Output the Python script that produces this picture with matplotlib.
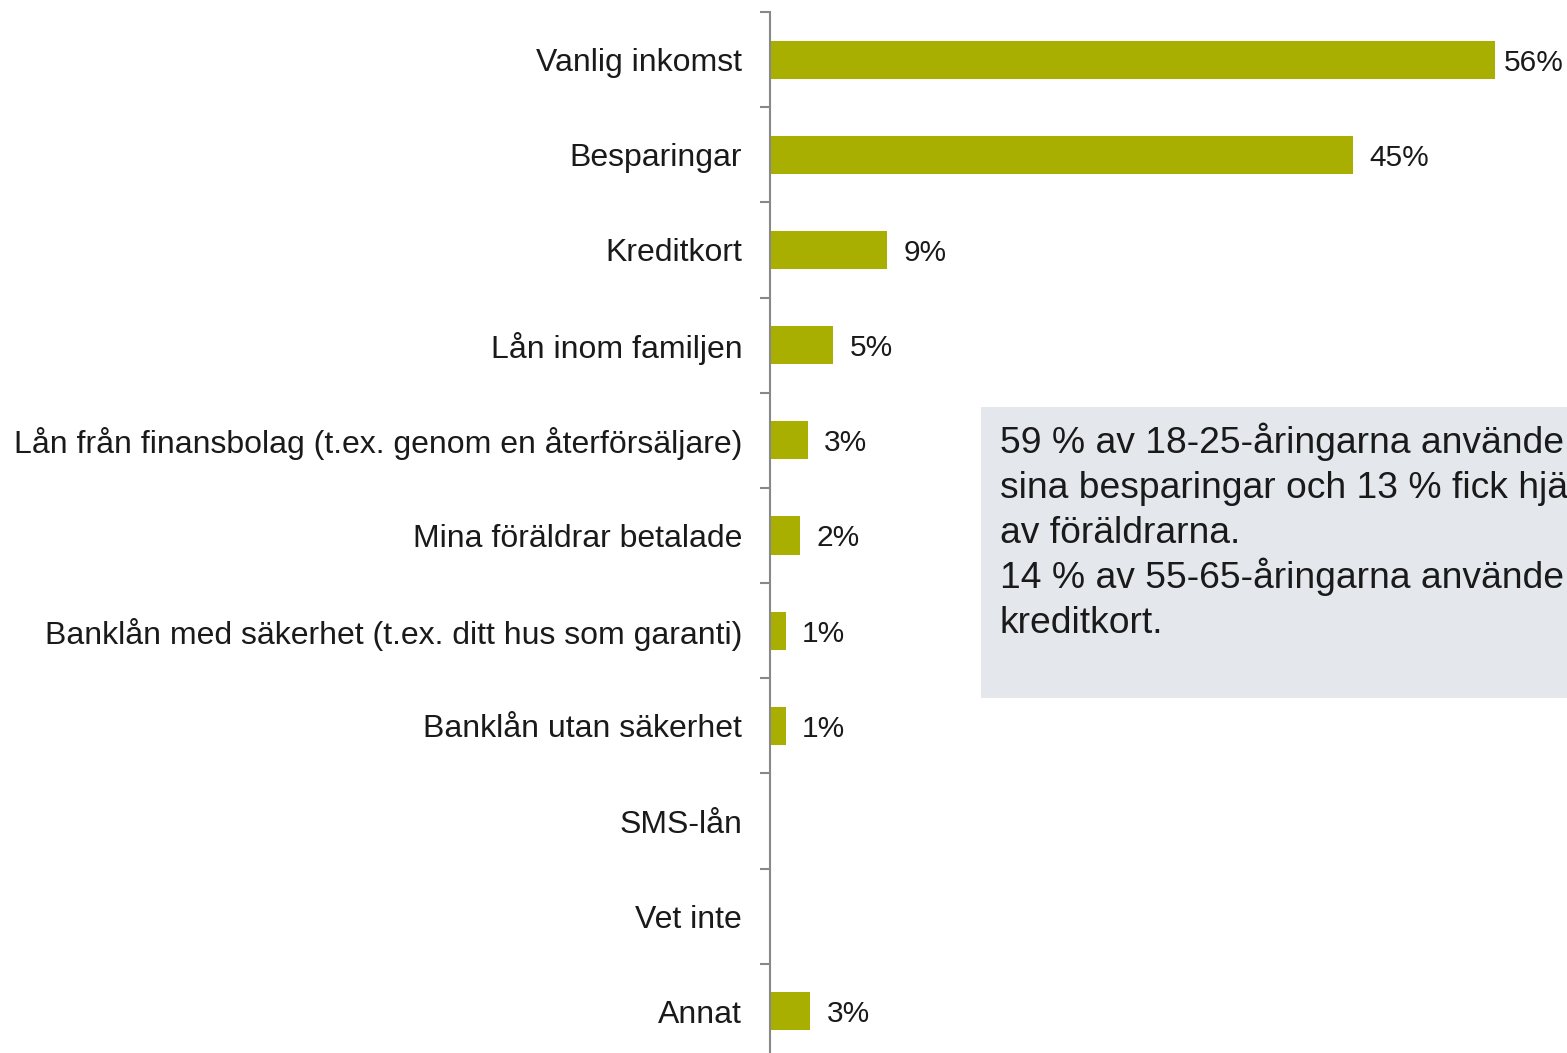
import matplotlib.pyplot as plt
from matplotlib.patches import Rectangle

plt.rcParams['font.family'] = ['Liberation Sans', 'DejaVu Sans']

# Share of respondents per source of payment (%)
categories = [
    'Vanlig inkomst',
    'Besparingar',
    'Kreditkort',
    'Lån inom familjen',
    'Lån från finansbolag (t.ex. genom en återförsäljare)',
    'Mina föräldrar betalade',
    'Banklån med säkerhet (t.ex. ditt hus som garanti)',
    'Banklån utan säkerhet',
    'SMS-lån',
    'Vet inte',
    'Annat',
]
values = [56, 45, 9, 4.9, 2.9, 2.3, 1.2, 1.2, 0, 0, 3.1]
labels = ['56%', '45%', '9%', '5%', '3%', '2%', '1%', '1%', None, None, '3%']

bar_color = '#A8AF00'
W, H = 1567, 1053

fig = plt.figure(figsize=(W / 100, H / 100), dpi=100)
ax = fig.add_axes([770 / W, 1 - 1059 / H, (W - 770) / W, (1059 - 12) / H])

ypos = list(range(len(categories)))
ax.barh(ypos, values, height=0.4, color=bar_color)
for y, v, lab in zip(ypos, values, labels):
    if lab:
        off = 6 if v > 50 else 12  # top label squeezed against the edge
        ax.annotate(lab, (v, y), xytext=(off, 0), textcoords='offset points',
                    va='center_baseline', ha='left', fontsize=21.5, color='#1a1a1a')

ax.set_xlim(0, 61.55)
ax.set_ylim(len(categories) - 0.5, -0.5)
ax.set_yticks(ypos)
ax.set_yticklabels(categories, fontsize=23, color='#1a1a1a')
ax.set_yticks([k - 0.5 for k in range(len(categories) + 1)], minor=True)
ax.tick_params(axis='y', which='major', length=0, pad=20)
ax.tick_params(axis='y', which='minor', length=7, width=1.5, color='#888888')
ax.set_xticks([])
for s in ['top', 'right', 'bottom']:
    ax.spines[s].set_visible(False)
ax.spines['left'].set_color('#888888')
ax.spines['left'].set_linewidth(1.5)

# Comment box on the right (text runs past the figure edge, as in the original)
fig.patches.append(Rectangle((981 / W, 1 - 698 / H), (W - 981) / W, (698 - 407) / H,
                             transform=fig.transFigure, facecolor='#E4E8EC',
                             edgecolor='none', zorder=0))
box_lines = [
    '59 % av 18-25-åringarna använde',
    'sina besparingar och 13 % fick hjälp',
    'av föräldrarna.',
    '14 % av 55-65-åringarna använde',
    'kreditkort.',
]
for i, line in enumerate(box_lines):
    fig.text(1000 / W, 1 - (453 + 45 * i) / H, line, ha='left', va='baseline',
             fontsize=26.8, color='#1a1a1a')

fig.savefig('out.png', dpi=100)
